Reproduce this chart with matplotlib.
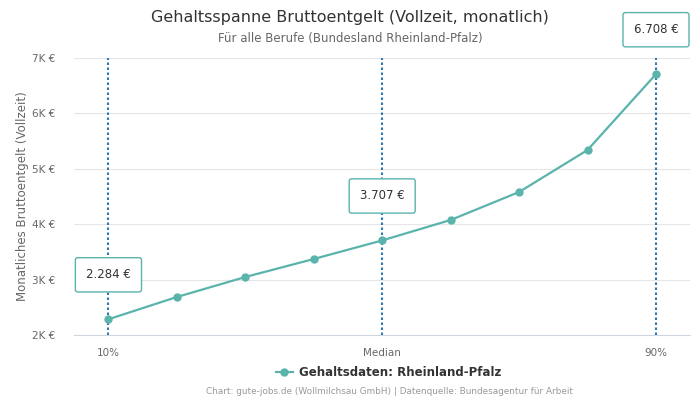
import numpy as np
import matplotlib.pyplot as plt
from matplotlib.ticker import FuncFormatter

# Daten
positionen = [0, 1, 2, 3, 4, 5, 6, 7, 8]
gehalt = [2284, 2686, 3047, 3372, 3707, 4076, 4581, 5339, 6708]
tick_pos = [0, 4, 8]
tick_labels = ['10%', 'Median', '90%']
markiert = [0, 4, 8]
markiert_text = ['2.284 €', '3.707 €', '6.708 €']

teal = '#5ab4ac'
blau = '#2f78b0'

fig = plt.figure(figsize=(7, 4), dpi=100)
ax = fig.add_axes([0.106, 0.1625, 0.88, 0.6925])

# vertikale Linien bei 10%, Median, 90%
for p in tick_pos:
    ax.axvline(p, color=blau, linestyle=(0, (1.2, 1.2)), linewidth=1.5, zorder=2)

ax.plot(positionen, gehalt, color=teal, linewidth=1.6, marker='o', markersize=5,
        zorder=3, label='Gehaltsdaten: Rheinland-Pfalz')

for i, txt in zip(markiert, markiert_text):
    ax.annotate(txt, (positionen[i], gehalt[i]), xytext=(0, 32), textcoords='offset points',
                ha='center', va='center', fontsize=8.5, color='#333333', zorder=5,
                bbox=dict(boxstyle='round,pad=0.9,rounding_size=0.2', fc='white', ec=teal, lw=1))

ax.set_xlim(-0.5, 8.5)
ax.set_ylim(2000, 7000)
ax.set_yticks([2000, 3000, 4000, 5000, 6000, 7000])
ax.yaxis.set_major_formatter(FuncFormatter(lambda v, _: f'{int(v/1000)}K €'))
ax.set_xticks(tick_pos)
ax.set_xticklabels(tick_labels)
ax.tick_params(axis='both', length=0, labelsize=7.5, labelcolor='#666666')
ax.tick_params(axis='x', pad=9)
ax.tick_params(axis='y', pad=14)
ax.grid(axis='y', color='#e6e6e6', linewidth=0.8)
ax.set_axisbelow(True)
for s in ['top', 'right', 'left']:
    ax.spines[s].set_visible(False)
ax.spines['bottom'].set_color('#d0d6de')

ax.set_ylabel('Monatliches Bruttoentgelt (Vollzeit)', fontsize=8.5, color='#666666', labelpad=2)

fig.text(0.5, 0.957, 'Gehaltsspanne Bruttoentgelt (Vollzeit, monatlich)', ha='center', va='center',
         fontsize=11.5, color='#333333')
fig.text(0.5, 0.903, 'Für alle Berufe (Bundesland Rheinland-Pfalz)', ha='center', va='center',
         fontsize=8.5, color='#666666')

leg = fig.legend(loc='center', bbox_to_anchor=(0.555, 0.068), frameon=False,
                 prop={'weight': 'bold', 'size': 8.5}, handlelength=1.5, handletextpad=0.5)
for t in leg.get_texts():
    t.set_color('#333333')

fig.text(0.557, 0.02, 'Chart: gute-jobs.de (Wollmilchsau GmbH) | Datenquelle: Bundesagentur für Arbeit',
         ha='center', va='center', fontsize=6.4, color='#999999')

fig.savefig('out.png', dpi=100)
